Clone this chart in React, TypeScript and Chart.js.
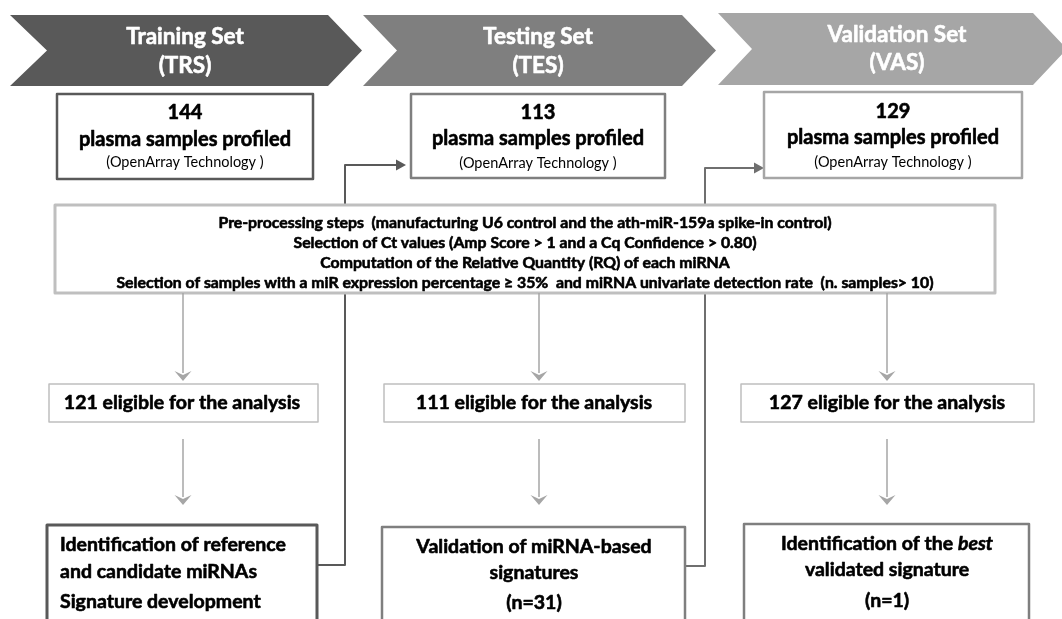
import React, { useEffect, useRef } from "react";
import { Chart, registerables } from "chart.js";

Chart.register(...registerables);

// ---- content ----
const setNames = ["Training Set", "Testing Set", "Validation Set"];
const setCodes = ["(TRS)", "(TES)", "(VAS)"];
const profiledCounts = [144, 113, 129];
const profiledLabel = "plasma samples profiled";
const technologyLabel = "(OpenArray Technology )";
const preprocessingSteps = [
  "Pre-processing steps  (manufacturing U6 control and the ath-miR-159a spike-in control)",
  "Selection of Ct values (Amp Score > 1 and a Cq Confidence > 0.80)",
  "Computation of the Relative Quantity (RQ) of each miRNA",
  "Selection of samples with a miR expression percentage \u2265 35%  and miRNA univariate detection rate  (n. samples> 10)",
];
const eligibleCounts = [121, 111, 127];
const eligibleLabel = "eligible for the analysis";
const outcomeLines = [
  ["Identification of reference", "and candidate miRNAs", "Signature development"],
  ["Validation of miRNA-based", "signatures", "(n=31)"],
  ["Identification of the ", "validated signature", "(n=1)"],
];
const outcomeEmphasis = ["", "", "best"];

// ---- layout (in data units of the hidden 0..1062 x 0..619 scales) ----
const chevronX = [
  [10, 47, 328, 362],
  [363, 397, 682, 716],
  [718, 752, 1033, 1067],
];
const chevronY = [
  [15, 86],
  [15, 86],
  [13, 85],
];
const chevronColors = ["#595959", "#7f7f7f", "#a6a6a6"];
const chevronTextX = [185, 538, 897];
const chevronTextY = [
  [37, 66],
  [37, 66],
  [35, 63],
];
const topBoxX = [
  [57, 313],
  [411, 665],
  [764, 1022],
];
const topBoxY = [
  [94, 179],
  [94, 178],
  [92, 178],
];
const topBoxTextX = [185, 538, 893];
const topBoxLineY = [
  [113, 140, 162],
  [113, 139, 163],
  [112, 138, 162],
];
const preBox = [55, 205, 995, 293];
const preTextX = 525;
const preLineY = [223, 243, 263, 283];
const arrowX = [183, 539, 887];
const arrow1Y = [293, 381];
const arrow2Y = [439, 505];
const eligBoxX = [
  [49, 318],
  [384, 685],
  [741, 1034],
];
const eligBoxY = [384, 422];
const eligTextX = [182, 534, 887];
const eligTextY = 403;
const outBoxX = [
  [47, 317],
  [382, 685],
  [744, 1029],
];
const outBoxTop = [525, 527, 524];
const outTextX = [60, 534, 887];
const outTextAlign: CanvasTextAlign[] = ["left", "center", "center"];
const outLineY = [
  [545, 572, 602],
  [547, 573, 603],
  [544, 570, 601],
];
const outBorder = ["#595959", "#7f7f7f", "#7f7f7f"];
const outBorderW = [3, 2.5, 2.5];
const connectors = [
  { fromX: 317, x: 345, bottom: 565, top: 165, toX: 406, color: "#595959" },
  { fromX: 685, x: 705, bottom: 566, top: 168, toX: 764, color: "#6f6f6f" },
];

const FONT = "Lato, 'Open Sans', sans-serif";
const B = "bold";

const flowPlugin = {
  id: "flow",
  afterDraw(chart: any) {
    const ctx: CanvasRenderingContext2D = chart.ctx;
    const sx = chart.scales.x;
    const sy = chart.scales.y;
    const X = (v: number) => sx.getPixelForValue(v);
    const Y = (v: number) => sy.getPixelForValue(v);
    ctx.save();
    ctx.fillStyle = "#ffffff";
    ctx.fillRect(0, 0, chart.width, chart.height);

    const put = (s: string, px: number, py: number, color: string, heavy: boolean) => {
      ctx.fillStyle = color;
      ctx.fillText(s, px, py);
      if (heavy) {
        ctx.strokeStyle = color;
        ctx.lineWidth = 0.6;
        ctx.lineJoin = "round";
        ctx.strokeText(s, px, py);
      }
    };
    const text = (s: string, x: number, y: number, font: string, color: string, align: CanvasTextAlign = "center") => {
      ctx.font = font;
      ctx.textAlign = align;
      ctx.textBaseline = "middle";
      put(s, X(x), Y(y), color, font.startsWith("bold") || font.includes(" bold"));
    };
    const rect = (x0: number, y0: number, x1: number, y1: number, color: string, w: number) => {
      ctx.fillStyle = "#ffffff";
      ctx.fillRect(X(x0), Y(y0), X(x1) - X(x0), Y(y1) - Y(y0));
      ctx.strokeStyle = color;
      ctx.lineWidth = w;
      ctx.strokeRect(X(x0), Y(y0), X(x1) - X(x0), Y(y1) - Y(y0));
    };
    const downArrow = (x: number, y0: number, y1: number, color: string) => {
      ctx.strokeStyle = color;
      ctx.lineWidth = 1.5;
      ctx.beginPath();
      ctx.moveTo(X(x), Y(y0));
      ctx.lineTo(X(x), Y(y1) - 8);
      ctx.stroke();
      ctx.fillStyle = color;
      ctx.beginPath();
      ctx.moveTo(X(x) - 8.5, Y(y1) - 10);
      ctx.lineTo(X(x), Y(y1) - 6);
      ctx.lineTo(X(x) + 8.5, Y(y1) - 10);
      ctx.lineTo(X(x), Y(y1));
      ctx.closePath();
      ctx.fill();
    };

    // chevrons
    for (let i = 0; i < 3; i++) {
      const [l, n, r, t] = chevronX[i];
      const [top, bot] = chevronY[i];
      const mid = (top + bot) / 2;
      ctx.fillStyle = chevronColors[i];
      ctx.beginPath();
      ctx.moveTo(X(l), Y(top));
      ctx.lineTo(X(r), Y(top));
      ctx.lineTo(X(t), Y(mid));
      ctx.lineTo(X(r), Y(bot));
      ctx.lineTo(X(l), Y(bot));
      ctx.lineTo(X(n), Y(mid));
      ctx.closePath();
      ctx.fill();
      text(setNames[i], chevronTextX[i], chevronTextY[i][0], `${B} 22.5px ${FONT}`, "#ffffff");
      text(setCodes[i], chevronTextX[i], chevronTextY[i][1], `${B} 22.5px ${FONT}`, "#ffffff");
    }

    // connectors (behind pre-processing box)
    for (const c of connectors) {
      ctx.strokeStyle = c.color;
      ctx.lineWidth = 2;
      ctx.beginPath();
      ctx.moveTo(X(c.fromX), Y(c.bottom));
      ctx.lineTo(X(c.x), Y(c.bottom));
      ctx.lineTo(X(c.x), Y(c.top));
      ctx.lineTo(X(c.toX) - 8, Y(c.top));
      ctx.stroke();
      ctx.fillStyle = c.color;
      ctx.beginPath();
      ctx.moveTo(X(c.toX), Y(c.top));
      ctx.lineTo(X(c.toX) - 10, Y(c.top) - 5.5);
      ctx.lineTo(X(c.toX) - 10, Y(c.top) + 5.5);
      ctx.closePath();
      ctx.fill();
    }

    // top boxes
    for (let i = 0; i < 3; i++) {
      rect(topBoxX[i][0], topBoxY[i][0], topBoxX[i][1], topBoxY[i][1], chevronColors[i], 2.5);
      text(String(profiledCounts[i]), topBoxTextX[i], topBoxLineY[i][0], `${B} 20px ${FONT}`, "#000000");
      text(profiledLabel, topBoxTextX[i], topBoxLineY[i][1], `${B} 20px ${FONT}`, "#000000");
      text(technologyLabel, topBoxTextX[i], topBoxLineY[i][2], `14.5px ${FONT}`, "#000000");
    }

    // pre-processing box
    rect(preBox[0], preBox[1], preBox[2], preBox[3], "#bfbfbf", 3);
    preprocessingSteps.forEach((s, k) => text(s, preTextX, preLineY[k], `${B} 15.8px ${FONT}`, "#000000"));

    // arrows + eligible boxes
    for (let i = 0; i < 3; i++) {
      downArrow(arrowX[i], arrow1Y[0], arrow1Y[1], "#a6a6a6");
      rect(eligBoxX[i][0], eligBoxY[0], eligBoxX[i][1], eligBoxY[1], "#bfbfbf", 1.5);
      text(`${eligibleCounts[i]} ${eligibleLabel}`, eligTextX[i], eligTextY, `${B} 19.5px ${FONT}`, "#000000");
      downArrow(arrowX[i], arrow2Y[0], arrow2Y[1], "#a6a6a6");
    }

    // outcome boxes
    for (let i = 0; i < 3; i++) {
      rect(outBoxX[i][0], outBoxTop[i], outBoxX[i][1], 640, outBorder[i], outBorderW[i]);
      outcomeLines[i].forEach((s, k) => {
        if (k === 0 && outcomeEmphasis[i]) {
          const f1 = `${B} 19.5px ${FONT}`;
          const f2 = `italic ${B} 19.5px ${FONT}`;
          ctx.font = f1;
          const w1 = ctx.measureText(s).width;
          ctx.font = f2;
          const w2 = ctx.measureText(outcomeEmphasis[i]).width;
          const start = X(outTextX[i]) - (w1 + w2) / 2;
          ctx.textAlign = "left";
          ctx.textBaseline = "middle";
          ctx.font = f1;
          put(s, start, Y(outLineY[i][k]), "#000000", true);
          ctx.font = f2;
          put(outcomeEmphasis[i], start + w1, Y(outLineY[i][k]), "#000000", true);
        } else {
          text(s, outTextX[i], outLineY[i][k], `${B} 19.5px ${FONT}`, "#000000", outTextAlign[i]);
        }
      });
    }
    ctx.restore();
  },
};

export default function App() {
  const ref = useRef<HTMLCanvasElement | null>(null);
  useEffect(() => {
    document.body.style.margin = "0";
    if (!ref.current) return;
    const chart = new Chart(ref.current, {
      type: "scatter",
      data: { datasets: [{ data: [], pointRadius: 0 }] },
      options: {
        animation: false,
        responsive: false,
        maintainAspectRatio: false,
        layout: { padding: 0 },
        plugins: { legend: { display: false }, tooltip: { enabled: false } },
        scales: {
          x: { type: "linear", min: 0, max: 1062, display: false },
          y: { type: "linear", min: 0, max: 619, reverse: true, display: false },
        },
      },
      plugins: [flowPlugin],
    });
    return () => chart.destroy();
  }, []);
  return (
    <div style={{ position: "fixed", left: 0, top: 0, width: 1062, height: 619, background: "#fff" }}>
      <canvas ref={ref} width={1062} height={619} style={{ width: 1062, height: 619 }} />
    </div>
  );
}
